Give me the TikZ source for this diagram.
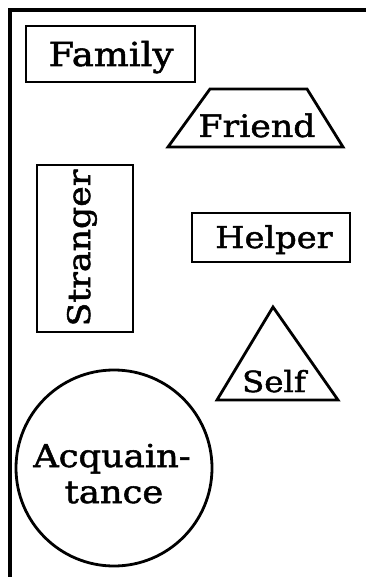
\documentclass[tikz,border=0pt]{standalone}
\usepackage{fontspec}
\newfontfamily\labfont[FakeStretch=1.12,FakeBold=1.6]{DejaVu Serif}
\tikzset{
  shapeline/.style={draw=black, line width=2.8pt, line join=miter},
  framestyle/.style={draw=black, line width=4pt},
  lab/.style={font=\labfont, inner sep=0pt, anchor=base},
}
\begin{document}
\begin{tikzpicture}[x=1pt,y=-1pt]
\useasboundingbox (0,0) rectangle (366,577);
% frame
\coordinate (fbl) at (10,577);
\coordinate (ftl) at (10,10);
\coordinate (ftr) at (366,10);
\draw[framestyle] (fbl) -- (ftl) -- (ftr);
% Family
\draw[shapeline] (26,26) rectangle (195,82);
\node[lab, font=\labfont\fontsize{33}{33}\selectfont] (family) at (111,66) {Family};
% Friend trapezoid
\draw[shapeline] (210,89) -- (307,89) -- (343,147) -- (168,147) -- cycle;
\node[lab, font=\labfont\fontsize{31}{31}\selectfont] (friend) at (257,137) {Friend};
% Stranger
\draw[shapeline] (37,165) rectangle (133,332);
\node[lab, rotate=90, font=\labfont\fontsize{31}{31}\selectfont] (stranger) at (90,248) {Stranger};
% Helper
\draw[shapeline] (192,213) rectangle (350,262);
\node[lab, font=\labfont\fontsize{30}{30}\selectfont] (helper) at (274,248) {Helper};
% Self triangle
\draw[shapeline] (273,307) -- (338,400) -- (217,400) -- cycle;
\node[lab, font=\labfont\fontsize{29}{29}\selectfont] (self) at (274,392) {Self};
% Acquaintance circle
\draw[shapeline] (114,468) circle (98);
\node[lab, font=\labfont\fontsize{31.5}{31.5}\selectfont] (acq1) at (112,467) {Acquain-};
\node[lab, font=\labfont\fontsize{31.5}{31.5}\selectfont] (acq2) at (114,503) {tance};
\end{tikzpicture}
\end{document}
